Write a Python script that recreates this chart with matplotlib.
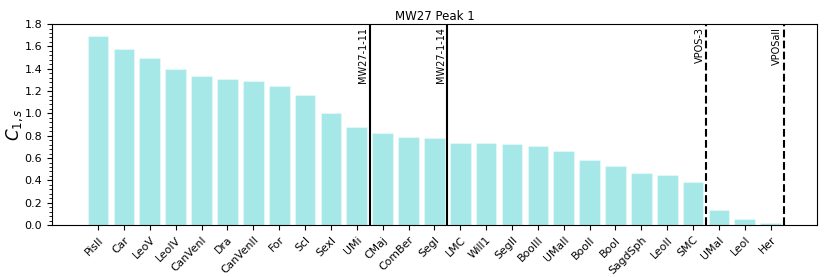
import matplotlib
matplotlib.use("Agg")
import matplotlib.pyplot as plt
from matplotlib.ticker import AutoMinorLocator

satellites = ["PisII", "Car", "LeoV", "LeoIV", "CanVenI", "Dra", "CanVenII", "For",
              "Scl", "SexI", "UMi", "CMaj", "ComBer", "SegI", "LMC", "Will1", "SegII",
              "BooIII", "UMaII", "BooII", "BooI", "SagdSph", "LeoII", "SMC", "UMaI",
              "LeoI", "Her"]
c1s = [1.69, 1.573, 1.50, 1.397, 1.334, 1.31, 1.292, 1.244, 1.161, 1.003, 0.877,
       0.824, 0.785, 0.782, 0.734, 0.731, 0.725, 0.704, 0.662, 0.582, 0.528, 0.463,
       0.45, 0.388, 0.134, 0.057, 0.018]

# cuts: (position between bars, label, linestyle)
cutPositions = [10.5, 13.5, 23.5, 26.5]
cutLabels = ["MW27-1-11", "MW27-1-14", "VPOS-3", "VPOSall"]
cutStyles = ["-", "-", "--", "--"]

fig = plt.figure(figsize=(8.3, 2.77), dpi=100)
ax = fig.add_axes([0.0627, 0.1877, 0.9213, 0.7253])

xs = list(range(len(satellites)))
ax.bar(xs, c1s, width=0.8, color='c', alpha=0.35, edgecolor='white', linewidth=0.8)

for pos, lab, ls in zip(cutPositions, cutLabels, cutStyles):
    ax.axvline(pos, color='k', linestyle=ls, linewidth=1.5)
    ax.text(pos - 0.05, 1.775, lab, rotation=90, ha='right', va='top', fontsize=7)

ax.set_xlim(-1.78, len(satellites) - 1 + 1.78)
ax.set_ylim(0, 1.8)
ax.set_xticks(xs)
ax.set_xticklabels(satellites, rotation=45, ha='right', rotation_mode='anchor', fontsize=7.8)
ax.set_yticks([i * 0.2 for i in range(10)])
ax.yaxis.set_minor_locator(AutoMinorLocator(5))
ax.tick_params(axis='y', labelsize=8)
ax.set_ylabel(r"$C_{1,s}$", fontsize=12, labelpad=0)
ax.set_title("MW27 Peak 1", fontsize=8.5, pad=3)

fig.savefig("out.png", dpi=100)
